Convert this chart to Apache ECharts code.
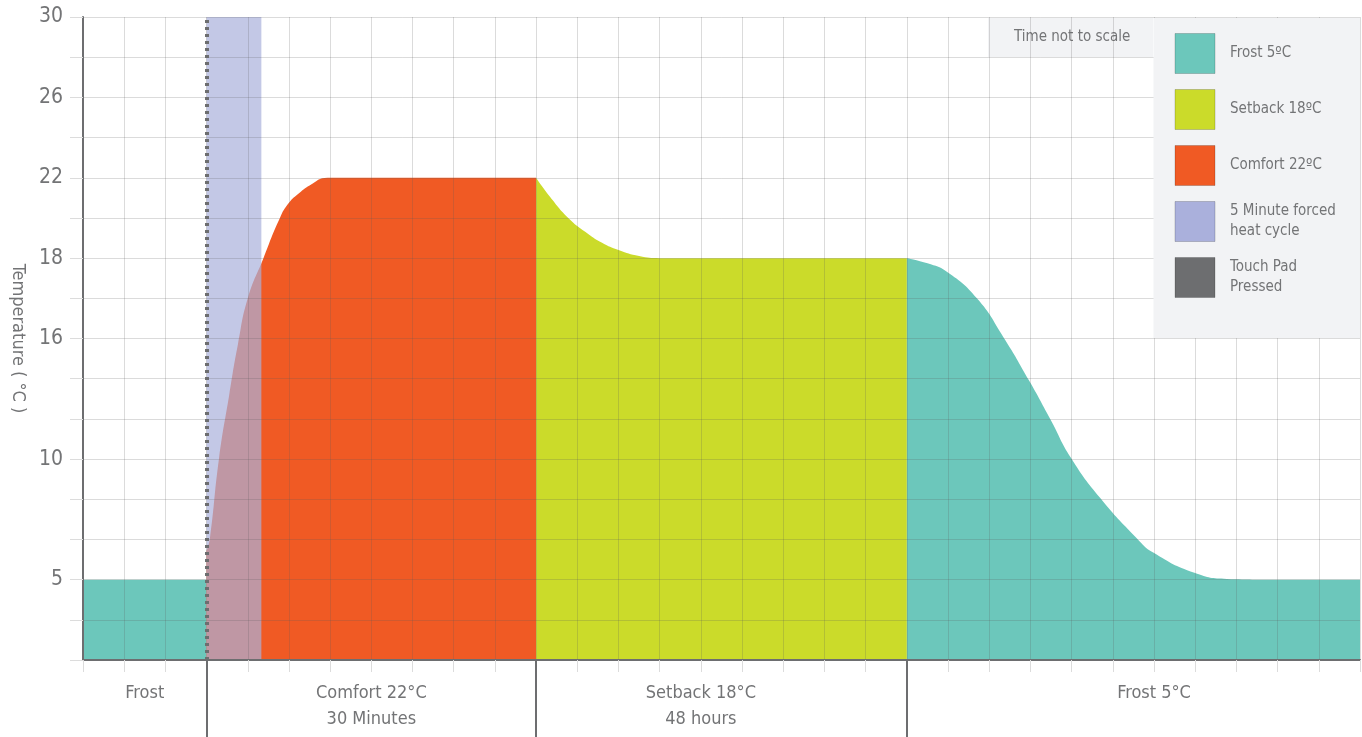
<!DOCTYPE html>
<html>
<head>
<meta charset="utf-8">
<script src="https://cdn.jsdelivr.net/npm/echarts@6/dist/echarts.min.js"></script>
<style>
  html, body { margin: 0; padding: 0; background: #fff; }
  #chart { width: 1362px; height: 737px; }
</style>
</head>
<body>
<div id="chart"></div>
<script>
// temperature axis is not to scale: every label sits on its own grid step
var yTickTemps = [5, 10, 16, 18, 22, 26, 30];
var yTickSteps = [2, 5, 8, 10, 12, 14, 16];

// time axis is not to scale either (31 grid columns)
var xLabelPos = [1.5, 7, 15, 26];
var xLabels = ['Frost', 'Comfort 22°C\n30 Minutes', 'Setback 18°C\n48 hours', 'Frost 5°C'];
var phaseBounds = [3, 11, 20];

var frostStartX = [0, 3];
var frostStartT = [5, 5];

var comfortX = [3, 3.08, 3.3, 3.55, 3.76, 4.0, 4.38, 4.78, 5.0, 5.25, 5.5, 5.94, 7, 11];
var comfortT = [6.2, 6.7, 10, 13.2, 15.7, 17, 18, 20, 20.75, 21.24, 21.62, 22, 22, 22];

var setbackX = [11, 11.34, 11.78, 12.2, 12.6, 13, 13.5, 14, 15, 20];
var setbackT = [22, 21.04, 20, 19.3, 18.76, 18.4, 18.1, 18, 18, 18];

var frostEndX = [20, 20.5, 20.97, 21.7, 22.34, 22.97, 23.48, 23.99, 24.7, 25.58, 25.98, 26.98, 27.77, 29, 31];
var frostEndT = [18, 17.87, 17.66, 17, 16.04, 13.9, 12, 10.04, 8.37, 6.72, 6.12, 5.28, 5.03, 5, 5];

var heatX = [3, 4.33];
var heatT = [30, 30];
var touchPadX = 3;

var legendNames = ['Frost 5ºC', 'Setback 18ºC', 'Comfort 22ºC', '5 Minute forced heat cycle', 'Touch Pad Pressed'];
var legendText = {
  '5 Minute forced heat cycle': '5 Minute forced\nheat cycle',
  'Touch Pad Pressed': 'Touch Pad\nPressed'
};

var FONT = '"Liberation Sans Narrow", "DejaVu Sans Condensed", sans-serif';
var TXT = '#737476';
var LINE = '#6d6e70';
var GRID = 'rgba(90,90,90,0.22)';

// piecewise map from °C to grid step
function toStep(t) {
  var i = 0;
  while (i < yTickTemps.length - 2 && t > yTickTemps[i + 1]) i++;
  var t0 = yTickTemps[i], t1 = yTickTemps[i + 1];
  var s0 = yTickSteps[i], s1 = yTickSteps[i + 1];
  return s0 + (t - t0) * (s1 - s0) / (t1 - t0);
}

function pairs(xs, ts) {
  return xs.map(function(x, i) { return [x, toStep(ts[i])]; });
}

function areaSeries(name, color, xs, ts) {
  return {
    name: name,
    type: 'line',
    data: pairs(xs, ts),
    smooth: 0.5,
    symbol: 'none',
    color: color,
    lineStyle: { width: 0 },
    areaStyle: { color: color, opacity: 1 },
    z: 1,
    silent: true
  };
}

var chart = echarts.init(document.getElementById('chart'), null, { renderer: 'canvas' });

chart.setOption({
  animation: false,
  grid: { left: 83, right: 2, top: 17, bottom: 77 },
  xAxis: [{
    type: 'value', min: 0, max: 31, interval: 1, z: 3,
    axisLine: { show: true, onZero: false, lineStyle: { color: LINE, width: 2 } },
    axisTick: { show: true, length: 12, lineStyle: { color: '#dcdcdc' } },
    splitLine: { show: true, lineStyle: { color: GRID } },
    axisLabel: {
      customValues: xLabelPos,
      formatter: function(v) { return xLabels[xLabelPos.indexOf(v)] || ''; },
      margin: 20, fontSize: 18, lineHeight: 26, color: TXT, fontFamily: FONT
    }
  }, {
    type: 'value', min: 0, max: 31, position: 'bottom', z: 3,
    axisLine: { show: false },
    splitLine: { show: false },
    axisLabel: { show: false },
    axisTick: { show: true, customValues: phaseBounds, length: 80, lineStyle: { color: LINE, width: 2 } }
  }],
  yAxis: {
    type: 'value', min: 0, max: 16, interval: 1, z: 3,
    name: 'Temperature ( °C )',
    nameLocation: 'middle', nameRotate: -90, nameGap: 56,
    nameTextStyle: { fontSize: 18, color: TXT, fontFamily: FONT },
    axisLine: { show: true, lineStyle: { color: LINE, width: 2 } },
    axisTick: { show: true, length: 13, lineStyle: { color: '#dcdcdc' } },
    splitLine: { show: true, lineStyle: { color: GRID } },
    axisLabel: {
      customValues: yTickSteps,
      formatter: function(v) { var i = yTickSteps.indexOf(v); return i < 0 ? '' : String(yTickTemps[i]); },
      margin: 20, fontSize: 21, color: TXT, fontFamily: FONT
    }
  },
  legend: {
    orient: 'vertical', right: 2, top: 18, z: 10,
    data: legendNames,
    icon: 'rect', itemWidth: 40, itemHeight: 40, itemGap: 15,
    padding: [15, 20, 40, 21],
    backgroundColor: '#f2f3f5',
    selectedMode: false,
    itemStyle: { borderColor: 'rgba(0,0,0,0.18)', borderWidth: 1 },
    textStyle: { fontSize: 15, lineHeight: 20, color: TXT, fontFamily: FONT, width: 110, padding: [0, 0, 0, 10] },
    formatter: function(name) { return legendText[name] || name; }
  },
  graphic: [{
    type: 'group', left: 988, top: 18, z: 10,
    children: [
      { type: 'rect', shape: { x: 0, y: 0, width: 165, height: 39 }, style: { fill: '#f2f3f5' } },
      { type: 'text', x: 26, y: 19, style: { text: 'Time not to scale', fill: TXT, font: '15px ' + FONT, verticalAlign: 'middle' } }
    ]
  }],
  series: [
    areaSeries('Frost 5ºC', '#6cc7bb', frostStartX, frostStartT),
    areaSeries('Comfort 22ºC', '#f05a24', comfortX, comfortT),
    areaSeries('Setback 18ºC', '#cbdb2a', setbackX, setbackT),
    areaSeries('Frost 5ºC', '#6cc7bb', frostEndX, frostEndT),
    {
      name: '5 Minute forced heat cycle',
      type: 'line',
      data: pairs(heatX, heatT),
      symbol: 'none',
      color: '#aab0dc',
      lineStyle: { width: 0 },
      areaStyle: { color: '#aab0dc', opacity: 0.7 },
      z: 2,
      silent: true
    },
    {
      name: 'Touch Pad Pressed',
      type: 'line',
      data: [],
      color: LINE,
      z: 4,
      markLine: {
        silent: true,
        symbol: ['none', 'none'],
        label: { show: false },
        lineStyle: { color: LINE, width: 4, type: [3, 4], cap: 'butt' },
        data: [{ xAxis: touchPadX }]
      }
    }
  ]
});
</script>
</body>
</html>
